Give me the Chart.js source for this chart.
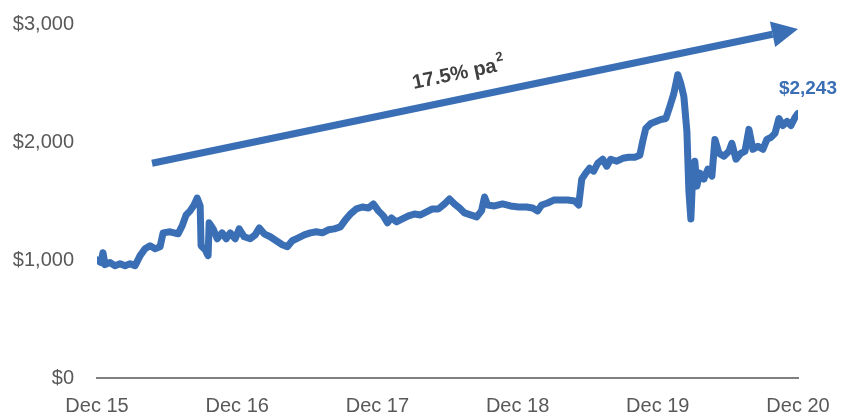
<!DOCTYPE html>
<html>
<head>
<meta charset="utf-8">
<script src="https://cdn.jsdelivr.net/npm/chart.js@4"></script>
<style>
  html, body { margin: 0; padding: 0; background: #fff; }
  #wrap { width: 844px; height: 417px; }
</style>
</head>
<body>
<div id="wrap"><canvas id="chart"></canvas></div>
<script>
// months since Dec 15
const months = [
  0, 0.34, 0.51, 0.69, 1.11, 1.54, 1.97, 2.4, 2.83, 3.26, 3.69, 4.11, 4.54, 4.97, 5.4, 5.66, 6.26, 6.94,
  7.29, 7.63, 7.97, 8.31, 8.57, 8.83, 8.91, 9.26, 9.51, 9.6, 9.94, 10.29, 10.71, 11.06, 11.4, 11.83,
  12.17, 12.6, 13.11, 13.54, 13.89, 14.31, 14.83, 15.34, 15.86, 16.29, 16.71, 17.23, 17.74, 18.26,
  18.77, 19.29, 19.8, 20.31, 20.83, 21.26, 21.69, 22.2, 22.71, 23.23, 23.66, 24.09, 24.51, 24.86,
  25.2, 25.63, 26.14, 26.66, 27.17, 27.69, 28.2, 28.71, 29.23, 29.74, 30.17, 30.6, 31.03, 31.46,
  31.97, 32.49, 32.91, 33.17, 33.43, 34.03, 34.71, 35.4, 36.09, 36.77, 37.29, 37.71, 38.06, 38.57,
  39.09, 39.69, 40.29, 40.89, 41.23, 41.49, 41.83, 42.17, 42.51, 42.86, 43.29, 43.63, 43.97, 44.49,
  45.0, 45.51, 46.03, 46.46, 46.71, 46.97, 47.4, 47.83, 48.26, 48.69, 49.03, 49.37, 49.71, 49.97,
  50.23, 50.49, 50.66, 50.83, 51.0, 51.17, 51.34, 51.6, 51.94, 52.29, 52.63, 52.89, 53.23, 53.66,
  54.09, 54.34, 54.69, 55.11, 55.46, 55.8, 56.14, 56.57, 57.0, 57.34, 57.69, 58.03, 58.37, 58.71,
  59.06, 59.4, 59.74, 60
];
const portfolio = [
  1000, 978, 1062, 961, 978, 952, 969, 952, 969, 952, 1037, 1096, 1121, 1096, 1112, 1230, 1239, 1222,
  1289, 1382, 1416, 1466, 1525, 1458, 1121, 1087, 1037, 1315, 1264, 1180, 1230, 1180, 1230, 1180,
  1264, 1197, 1180, 1213, 1272, 1222, 1197, 1163, 1129, 1112, 1163, 1188, 1213, 1230,
  1239, 1230, 1256, 1264, 1281, 1340, 1390, 1433, 1449, 1441, 1475, 1416, 1374, 1315,
  1357, 1323, 1348, 1374, 1390, 1382, 1407, 1433, 1433, 1475, 1517, 1475, 1441, 1399,
  1382, 1365, 1416, 1534, 1466, 1458, 1475, 1458, 1449, 1449, 1441, 1416, 1466, 1483,
  1508, 1508, 1508, 1500, 1466, 1685, 1736, 1778, 1753, 1820, 1854, 1795, 1854, 1837,
  1862, 1871, 1871, 1888, 2006, 2115, 2157, 2174, 2191, 2199, 2301, 2410, 2570, 2494,
  2385, 2090, 1584, 1348, 1753, 1837, 1626, 1736, 1685, 1770, 1711, 2022, 1905, 1879,
  1921, 1989, 1854, 1905, 1921, 2107, 1938, 1963, 1938, 2022, 2039, 2073, 2199, 2140,
  2174, 2140, 2208, 2243
];
const xTickLabels = ["Dec 15", "Dec 16", "Dec 17", "Dec 18", "Dec 19", "Dec 20"];
const yTicks = [0, 1000, 2000, 3000];

// trend arrow ends, in data units [month, value]
const trendArrow = [[4.71, 1820], [60, 2958]];
const trendLabel = "17.5% pa";
const trendSup = "2";

const BLUE = "#3a6eb5";
const FONT = "'Liberation Sans', Arial, sans-serif";

const annotate = {
  id: "annotate",
  afterDatasetsDraw(chart) {
    const { ctx, scales } = chart;
    const x = scales.x, y = scales.y;
    const p0 = { x: x.getPixelForValue(trendArrow[0][0]), y: y.getPixelForValue(trendArrow[0][1]) };
    const p1 = { x: x.getPixelForValue(trendArrow[1][0]), y: y.getPixelForValue(trendArrow[1][1]) };
    const ang = Math.atan2(p1.y - p0.y, p1.x - p0.x);
    const headLen = 26, headW = 13;
    const bx = p1.x - headLen * Math.cos(ang), by = p1.y - headLen * Math.sin(ang);

    ctx.save();
    ctx.strokeStyle = BLUE;
    ctx.fillStyle = BLUE;
    ctx.lineWidth = 7;
    ctx.beginPath();
    ctx.moveTo(p0.x, p0.y);
    ctx.lineTo(bx, by);
    ctx.stroke();
    ctx.beginPath();
    ctx.moveTo(p1.x, p1.y);
    ctx.lineTo(bx + headW * Math.sin(ang), by - headW * Math.cos(ang));
    ctx.lineTo(bx - headW * Math.sin(ang), by + headW * Math.cos(ang));
    ctx.closePath();
    ctx.fill();

    // rotated trend label
    const mx = (p0.x + p1.x) / 2 - 17, my = (p0.y + p1.y) / 2 - 22;
    ctx.translate(mx, my);
    ctx.rotate(ang);
    ctx.fillStyle = "#404040";
    ctx.font = "bold 20px " + FONT;
    ctx.textBaseline = "middle";
    const w = ctx.measureText(trendLabel).width;
    ctx.font = "bold 13px " + FONT;
    const ws = ctx.measureText(trendSup).width;
    const start = -(w + ws) / 2;
    ctx.font = "bold 20px " + FONT;
    ctx.textAlign = "left";
    ctx.fillText(trendLabel, start, 0);
    ctx.font = "bold 13px " + FONT;
    ctx.fillText(trendSup, start + w + 1, -8);
    ctx.restore();

    // end value label
    const last = portfolio.length - 1;
    const lx = x.getPixelForValue(months[last]), ly = y.getPixelForValue(portfolio[last]);
    ctx.save();
    ctx.fillStyle = BLUE;
    ctx.font = "bold 19px " + FONT;
    ctx.textAlign = "right";
    ctx.textBaseline = "alphabetic";
    ctx.fillText("$" + portfolio[last].toLocaleString("en-US"), lx + 39, ly - 19);
    ctx.restore();
  }
};

new Chart(document.getElementById("chart"), {
  type: "line",
  data: {
    datasets: [{
      data: months.map((m, i) => ({ x: m, y: portfolio[i] })),
      borderColor: BLUE,
      borderWidth: 7,
      borderJoinStyle: "round",
      borderCapStyle: "round",
      pointRadius: 0,
      tension: 0
    }]
  },
  options: {
    responsive: true,
    maintainAspectRatio: false,
    animation: false,
    layout: { padding: { top: 24, right: 46, left: 0, bottom: 0 } },
    plugins: { legend: { display: false }, tooltip: { enabled: false } },
    scales: {
      x: {
        type: "linear",
        min: 0,
        max: 60,
        grid: { display: false, drawTicks: false },
        border: { display: true, color: "#808080", width: 2 },
        afterFit(s) { s.height = 39; s.paddingLeft = 0; s.paddingRight = 0; },
        afterBuildTicks(s) { s.ticks = xTickLabels.map((_, i) => ({ value: i * 12 })); },
        ticks: {
          autoSkip: false,
          maxRotation: 0,
          padding: 16,
          color: "#595959",
          font: { family: FONT, size: 20 },
          callback: v => xTickLabels[Math.round(v / 12)]
        }
      },
      y: {
        min: 0,
        max: 3000,
        grid: { display: false, drawTicks: false },
        border: { display: false },
        afterFit(s) { s.width = 97; s.paddingTop = 0; s.paddingBottom = 0; },
        afterBuildTicks(s) { s.ticks = yTicks.map(v => ({ value: v })); },
        ticks: {
          padding: 23,
          color: "#595959",
          font: { family: FONT, size: 20 },
          callback: v => "$" + v.toLocaleString("en-US")
        }
      }
    }
  },
  plugins: [annotate]
});
</script>
</body>
</html>
